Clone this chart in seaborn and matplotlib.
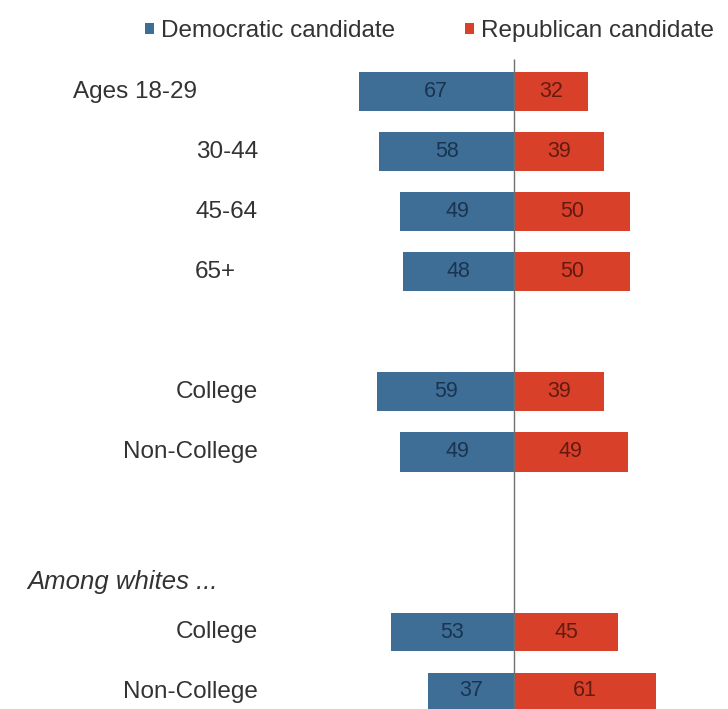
import matplotlib
matplotlib.use("Agg")
import matplotlib.pyplot as plt
import matplotlib.transforms as mtransforms
import seaborn as sns
import pandas as pd

# ---- data ----
groups = ["Ages 18-29", "30-44", "45-64", "65+", "College", "Non-College", "College", "Non-College"]
row_pos = [0, 1, 2, 3, 5, 6, 9, 10]
dem = [67, 58, 49, 48, 59, 49, 53, 37]
rep = [32, 39, 50, 50, 39, 49, 45, 61]
series = ["Democratic candidate", "Republican candidate"]
section_label = "Among whites ..."

# ---- style ----
sns.set_theme(style="white")
plt.rcParams["font.family"] = ["Liberation Sans", "DejaVu Sans"]

DEM_C = "#3e6e96"
REP_C = "#d8402a"
W, H = 728, 709

df = pd.DataFrame({
    "pos": row_pos * 2,
    "value": [-v for v in dem] + rep,
    "party": [series[0]] * len(dem) + [series[1]] * len(rep),
})

fig = plt.figure(figsize=(W / 100, H / 100), dpi=100)
ax_left_px = 270
ax = fig.add_axes([ax_left_px / W, 0, (W - ax_left_px) / W, 1])

sns.barplot(data=df, x="value", y="pos", hue="party", orient="h",
            native_scale=True, dodge=False, width=0.65,
            palette=[DEM_C, REP_C], hue_order=series, ax=ax,
            saturation=1, linewidth=0)

px_per_unit = 2.32
center_px = 514
ax.set_xlim(-(center_px - ax_left_px) / px_per_unit, (W - center_px) / px_per_unit)
row0_px, row_step = 92, 60
ax.set_ylim((H - row0_px) / row_step, -row0_px / row_step)

# center line
ax.vlines(0, -0.55, (H - row0_px) / row_step, color="#6f6f6f", linewidth=1.0, zorder=5)

# value labels
for cont, vals, col in zip(ax.containers, [dem, rep], ["#1a3450", "#651a10"]):
    ax.bar_label(cont, labels=[str(v) for v in vals], label_type="center",
                 color=col, fontsize=15.5, zorder=6)

# row labels
label_right_px = [197, 258, 258, 236, 258, 258, 258, 258]
trans = mtransforms.blended_transform_factory(fig.transFigure, ax.transData)
ax.set_yticks([])
for g, p, xr in zip(groups, row_pos, label_right_px):
    ax.text(xr / W, p, g, transform=trans, ha="right", va="center",
            fontsize=17.5, color="#333333")
ax.text(27 / W, (582 - row0_px) / row_step, section_label, transform=trans,
        ha="left", va="center", fontsize=18.5, style="italic", color="#333333")

ax.set_xlabel("")
ax.set_ylabel("")
ax.set_xticks([])
for s in ax.spines.values():
    s.set_visible(False)

# legend
sns.move_legend(ax, "center left", bbox_to_anchor=(145 / W, 1 - 31 / H),
                bbox_transform=fig.transFigure, ncol=2, frameon=False,
                title=None, fontsize=17.5, handlelength=0.35, handleheight=0.35,
                handletextpad=0.3, columnspacing=2.9, borderpad=0, borderaxespad=0)
for t in ax.get_legend().get_texts():
    t.set_color("#333333")

fig.savefig("out.png", dpi=100)
